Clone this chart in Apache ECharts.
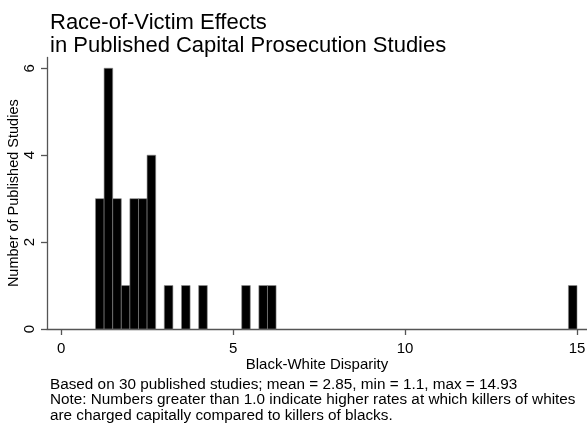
<!DOCTYPE html>
<html>
<head>
<meta charset="utf-8">
<script src="https://cdn.jsdelivr.net/npm/echarts@6/dist/echarts.min.js"></script>
<style>html,body{margin:0;padding:0;background:#fff}#c{width:587px;height:423px}</style>
</head>
<body>
<div id="c"></div>
<script>
const binStarts = [1.0, 1.25, 1.5, 1.75, 2.0, 2.25, 2.5, 3.0, 3.5, 4.0, 5.25, 5.75, 6.0, 14.75];
const counts    = [3,   6,    3,   1,    3,   3,    4,   1,   1,   1,   1,    1,    1,   1];
const binWidth = 0.25;
const xTicks = [0, 5, 10, 15];
const yTicks = [0, 2, 4, 6];
const titleLines = ['Race-of-Victim Effects', 'in Published Capital Prosecution Studies'];
const noteLines = [
  'Based on 30 published studies; mean = 2.85, min = 1.1, max = 14.93',
  'Note: Numbers greater than 1.0 indicate higher rates at which killers of whites',
  'are charged capitally compared to killers of blacks.'
];
const font = 'Liberation Sans, Arial, sans-serif';
const chart = echarts.init(document.getElementById('c'), null, {renderer: 'canvas'});
const data = binStarts.map((s, i) => [s, s + binWidth, counts[i]]);
chart.setOption({
  animation: false,
  backgroundColor: '#fff',
  title: [{
    text: titleLines.join('\n'), left: 45, top: 7,
    textStyle: {fontFamily: font, fontSize: 22, fontWeight: 'normal', color: '#000', lineHeight: 22.5}
  }, {
    text: noteLines.join('\n'), left: 45, top: 372,
    textStyle: {fontFamily: font, fontSize: 15.3, fontWeight: 'normal', color: '#000', lineHeight: 15.4}
  }],
  grid: {left: 47, right: 0, top: 57.4, bottom: 94, outerBoundsMode: 'none', containLabel: false},
  xAxis: {
    type: 'value', min: -0.41, max: 15.29,
    name: 'Black-White Disparity', nameLocation: 'middle', nameGap: 28, nameMoveOverlap: false,
    nameTextStyle: {fontFamily: font, fontSize: 15, color: '#000'},
    axisLine: {show: true, onZero: false, lineStyle: {color: '#555', width: 1.3}},
    axisTick: {show: true, length: 6, customValues: xTicks, lineStyle: {color: '#555', width: 1.3}},
    axisLabel: {customValues: xTicks, fontFamily: font, fontSize: 15, color: '#000', margin: 12},
    splitLine: {show: false}
  },
  yAxis: {
    type: 'value', min: 0, max: 6.25,
    name: 'Number of Published Studies', nameLocation: 'middle', nameGap: 26, nameMoveOverlap: false,
    nameTextStyle: {fontFamily: font, fontSize: 14.5, color: '#000'},
    axisLine: {show: true, onZero: false, lineStyle: {color: '#555', width: 1.3}},
    axisTick: {show: true, length: 6, customValues: yTicks, lineStyle: {color: '#555', width: 1.3}},
    axisLabel: {customValues: yTicks, rotate: 90, fontFamily: font, fontSize: 15, color: '#000', margin: 10},
    splitLine: {show: false}
  },
  series: [{
    type: 'custom',
    data: data,
    renderItem: function (params, api) {
      const p0 = api.coord([api.value(0), 0]);
      const p1 = api.coord([api.value(1), api.value(2)]);
      return {
        type: 'rect',
        shape: {x: p0[0], y: p1[1], width: p1[0] - p0[0], height: p0[1] - p1[1]},
        style: {fill: '#000', stroke: '#888', lineWidth: 0.6}
      };
    }
  }]
});
</script>
</body>
</html>
